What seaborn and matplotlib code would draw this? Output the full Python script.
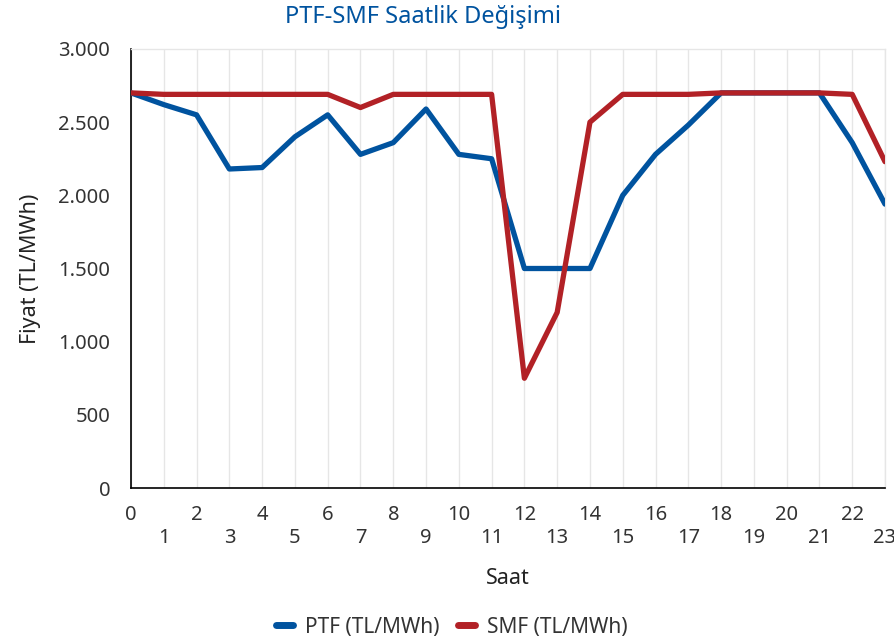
import numpy as np
import pandas as pd
import seaborn as sns
import matplotlib
matplotlib.use("Agg")
import matplotlib.pyplot as plt
from matplotlib.ticker import FuncFormatter, MultipleLocator
from matplotlib.lines import Line2D

hours = list(range(24))
ptf = [2700, 2620, 2550, 2180, 2190, 2400, 2550, 2280, 2360, 2590, 2280, 2250,
       1500, 1500, 1500, 2000, 2280, 2480, 2700, 2700, 2700, 2700, 2360, 1940]
smf = [2700, 2690, 2690, 2690, 2690, 2690, 2690, 2600, 2690, 2690, 2690, 2690,
       750, 1200, 2500, 2690, 2690, 2690, 2700, 2700, 2700, 2700, 2690, 2230]
series_names = ["PTF (TL/MWh)", "SMF (TL/MWh)"]
colors = ["#00539F", "#B22126"]
title = "PTF-SMF Saatlik Değişimi"
xlabel = "Saat"
ylabel = "Fiyat (TL/MWh)"

df = pd.DataFrame({"Saat": hours * 2,
                   "Fiyat": ptf + smf,
                   "Seri": [series_names[0]] * 24 + [series_names[1]] * 24})

sns.set_theme(style="white")
plt.rcParams["font.family"] = ["Noto Sans", "DejaVu Sans"]

fig = plt.figure(figsize=(8.95, 6.4), dpi=100)
ax = fig.add_axes([131 / 895, 1 - 488 / 640, (885 - 131) / 895, (488 - 49) / 640])

sns.lineplot(data=df, x="Saat", y="Fiyat", hue="Seri", palette=colors,
             linewidth=3.8, ax=ax, legend=False, zorder=3)

ax.set_xlim(0, 23)
ax.set_ylim(0, 3000)
ax.yaxis.set_major_locator(MultipleLocator(500))
ax.yaxis.set_major_formatter(FuncFormatter(lambda v, p: f"{int(v):,}".replace(",", ".")))
ax.set_xticks(hours)
ax.set_xticklabels([str(h) if h % 2 == 0 else "\n" + str(h) for h in hours])
ax.tick_params(axis="x", length=0, pad=12, labelsize=14.5, colors="#333333")
ax.tick_params(axis="y", length=0, pad=15, labelsize=14.5, colors="#333333")
for lab in ax.get_xticklabels():
    lab.set_linespacing(1.2)

ax.grid(axis="x", color="#E6E6E6", linewidth=1.0, zorder=0)
ax.grid(axis="y", visible=False)
for side in ["top", "right"]:
    ax.spines[side].set_color("#E6E6E6")
    ax.spines[side].set_linewidth(1.0)
for side in ["left", "bottom"]:
    ax.spines[side].set_color("#000000")
    ax.spines[side].set_linewidth(1.2)

ax.set_xlabel(xlabel, fontsize=15.5, color="#222222", labelpad=15)
ax.set_ylabel(ylabel, fontsize=15.5, color="#222222", labelpad=12)
fig.text(0.473, 1 - 17 / 640, title, ha="center", va="center", fontsize=17, color="#00539F")

handles = [Line2D([0], [0], color=c, linewidth=5) for c in colors]
fig.legend(handles, series_names, loc="center", bbox_to_anchor=(0.505, 1 - 627 / 640),
           ncol=2, frameon=False, fontsize=15, handlelength=0.8, columnspacing=0.9,
           handletextpad=0.6, labelcolor="#333333")

fig.savefig("out.png", dpi=100)
